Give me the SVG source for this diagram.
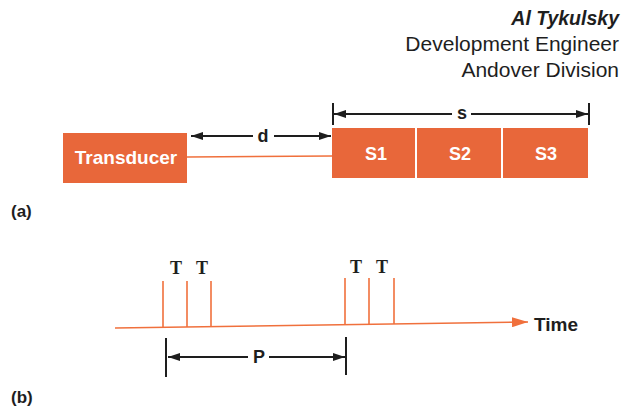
<svg xmlns="http://www.w3.org/2000/svg" width="630" height="409" viewBox="0 0 630 409">
<defs>
<marker id="ah" viewBox="0 0 12 8" refX="12" refY="4" markerWidth="12" markerHeight="8" markerUnits="userSpaceOnUse" orient="auto-start-reverse">
<path d="M0,0 L12,4 L0,8 Z" fill="#1e1e1e"/>
</marker>
<marker id="oh" viewBox="0 0 16 10" refX="16" refY="5" markerWidth="16" markerHeight="10" markerUnits="userSpaceOnUse" orient="auto">
<path d="M0,0 L16,5 L0,10 Z" fill="#f0703c"/>
</marker>
<style>
.box{fill:#e8673a;}
.lbl{font-family:"Liberation Sans",Arial,sans-serif;font-weight:bold;fill:#ffffff;font-size:18px;text-anchor:middle;}
.dim{stroke:#1e1e1e;stroke-width:2;fill:none;}
.dt{font-family:"Liberation Sans",Arial,sans-serif;font-weight:bold;fill:#1e1e1e;font-size:18px;text-anchor:middle;}
.or{stroke:#f0703c;stroke-width:1.6;fill:none;}
.tt{font-family:"Liberation Serif","Times New Roman",serif;font-weight:bold;fill:#1e1e1e;font-size:18px;text-anchor:middle;}
.hd{font-family:"Liberation Sans",Arial,sans-serif;fill:#1e1e1e;font-size:21px;text-anchor:end;}
.cap{font-family:"Liberation Sans",Arial,sans-serif;font-weight:bold;fill:#1e1e1e;font-size:17px;}
</style>
</defs>
<g id="header">
<text class="hd" x="619" y="25" font-style="italic" font-weight="bold" style="font-size:19.5px">Al Tykulsky</text>
<text class="hd" x="619" y="51">Development Engineer</text>
<text class="hd" x="619" y="77">Andover Division</text>
</g>
<g id="transducer"><rect class="box" x="63" y="133" width="124" height="50"/><text class="lbl" x="126" y="164" style="font-size:19px">Transducer</text></g>
<g id="s1"><rect class="box" x="332" y="128" width="83" height="50"/><text class="lbl" x="376" y="160">S1</text></g>
<g id="s2"><rect class="box" x="417" y="128" width="84" height="50"/><text class="lbl" x="460" y="160">S2</text></g>
<g id="s3"><rect class="box" x="503" y="128" width="85" height="50"/><text class="lbl" x="546" y="160">S3</text></g>
<g id="connectors">
<line class="or" x1="187" y1="157" x2="332" y2="156"/>
<line class="dim" x1="253" y1="136" x2="191" y2="136" marker-end="url(#ah)"/>
<line class="dim" x1="274" y1="136" x2="331" y2="136" marker-end="url(#ah)"/>
<text class="dt" x="263" y="142">d</text>
<line class="dim" x1="333" y1="103" x2="333" y2="125"/>
<line class="dim" x1="589" y1="103" x2="589" y2="125"/>
<line class="dim" x1="452" y1="114" x2="334" y2="114" marker-end="url(#ah)"/>
<line class="dim" x1="471" y1="114" x2="588" y2="114" marker-end="url(#ah)"/>
<text class="dt" x="462" y="119">s</text>
</g>
<text class="cap" x="11" y="217">(a)</text>
<g id="timing">
<line class="or" x1="115" y1="328" x2="528" y2="322" marker-end="url(#oh)"/>
<line class="or" x1="163" y1="281" x2="163" y2="327"/>
<line class="or" x1="187" y1="281" x2="187" y2="327"/>
<line class="or" x1="211" y1="281" x2="211" y2="327"/>
<line class="or" x1="345" y1="278" x2="345" y2="325"/>
<line class="or" x1="369" y1="278" x2="369" y2="325"/>
<line class="or" x1="394" y1="278" x2="394" y2="324"/>
<text class="tt" x="176" y="274">T</text>
<text class="tt" x="202" y="274">T</text>
<text class="tt" x="356" y="273">T</text>
<text class="tt" x="382" y="273">T</text>
<text class="dt" x="534" y="331" style="text-anchor:start;font-size:19px">Time</text>
<line class="dim" x1="166" y1="338" x2="166" y2="377"/>
<line class="dim" x1="346" y1="337" x2="346" y2="375"/>
<line class="dim" x1="248" y1="357" x2="168" y2="357" marker-end="url(#ah)"/>
<line class="dim" x1="269" y1="357" x2="345" y2="357" marker-end="url(#ah)"/>
<text class="dt" x="259" y="363">P</text>
</g>
<text class="cap" x="11" y="403">(b)</text>
</svg>
